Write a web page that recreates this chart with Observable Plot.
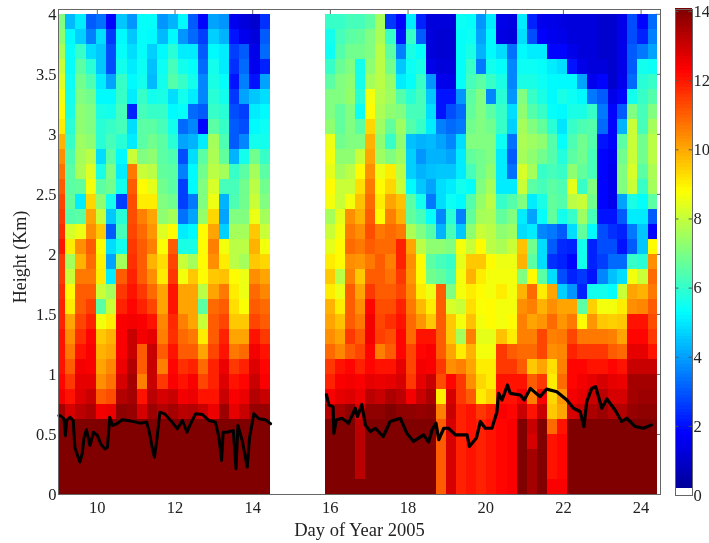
<!DOCTYPE html>
<html>
<head>
<meta charset="utf-8">
<script src="https://cdn.jsdelivr.net/npm/d3@7"></script>
<script src="https://cdn.jsdelivr.net/npm/@observablehq/plot@0.6"></script>
<style>
html,body{margin:0;padding:0;background:#fff}
#chart{position:relative;width:709px;height:543px;overflow:hidden}
#chart svg{position:absolute;left:0;top:0;filter:blur(0.6px);background:transparent}
</style>
</head>
<body>
<div id="chart"></div>
<script>
const xTicks = [10,12,14,16,18,20,22,24];
const yTicks = [0,0.5,1,1.5,2,2.5,3,3.5,4];
const barTicks = [0,2,4,6,8,10,12,14];
const xTitle = ["Day of Year 2005"];
const yTitle = ["Height (Km)"];
const rowStep = 0.125; // km, rows listed from the top of the plot down

// first segment: edge days of each column, then profile values top to bottom
const leftEdges = [9.0,9.19,9.45,9.71,9.98,10.24,10.5,10.77,11.03,11.29,11.56,11.82,12.08,12.35,12.61,12.87,13.14,13.4,13.66,13.93,14.19,14.46];
const leftColumns = [
[7,7.2,7.6,8,8.3,8.6,8.8,9,9.8,10.3,10.7,11,11.3,11.5,11.7,12,11.5,11.5,11.7,11.8,11.8,12,12,12,12.2,12.4,13.5,14,14,14,14,14],
[4.3,5.2,5.3,5.3,5.4,5.5,5.6,5.8,6,6.3,6.5,6.5,6.6,6.4,8.2,9,7.5,8,8.8,9,10,10.3,10.6,11,11.5,12,12.8,14,14,14,14,14],
[5,4.6,6,6.5,6.8,7,7.2,7.2,7.4,7.5,7.6,6.6,5,6.5,8.5,10.3,9.8,10.6,11,11,11.3,11.6,12,12.4,12.6,12.7,13.2,14,14,14,14,14],
[3,3.5,4.8,5.8,6.3,6.8,7,7,7.2,7.8,8.3,8.6,9.3,10,10.3,11,10.8,10.6,11,11.4,11.8,12.2,12.3,12.3,12.6,13,13.4,14,14,14,14,14],
[3.3,4.8,4.5,4.5,5,5.2,5.6,5.8,5.8,4.8,5.6,6.5,7.2,8,9.5,8.7,8.9,9,8,6.5,8.6,9.5,9.8,10,10.3,11,12.4,14,14,14,14,14],
[1.8,2.5,2.8,2.8,4,5.2,5.5,6,6.2,6.5,7,6.8,5.5,4.5,3,4.8,4,5,7.5,8,9,9.8,10,10.4,10.7,11.2,12.5,14,14,14,14,14],
[4.5,5.2,5.3,5.5,6,6,6.2,6.2,5.8,5.2,5,5.5,2.6,5.8,6.2,5.5,7.5,11,11.5,11.8,12.3,12.3,12.3,12.5,12.8,13.3,13.8,14,14,14,14,14],
[3.8,4.5,4.8,5,5.2,5,2.2,4.8,5,8,10.6,11,11.2,11.2,11.3,11.5,11.6,11.8,12,12.2,12.4,13,13,13.3,13.5,13.5,13.7,14,14,14,14,14],
[5.3,5.3,5.3,5.4,5.5,6,6.2,6.5,6.5,7,8,8.8,9,10.5,10.8,11,11,11,11.5,11.8,12.3,12.4,11,11,10.5,12,12.8,14,14,14,14,14],
[5.3,5.2,4.6,4.4,4.3,5.5,6,6.5,6.8,7.2,7.8,8.4,9,10,10.2,10.5,9.8,10.3,10.8,11.3,12,12.6,13,13,13,13.2,13.6,14,14,14,14,14],
[3.8,4.3,5.2,5.4,5.5,5.6,6,6.2,6.5,6.5,6.6,6.8,7,7.2,8.3,8.7,9.2,9,10,10,10.4,10.5,11,10.5,11.5,12.8,13.3,14,14,14,14,14],
[4.2,5.2,5.8,6.2,6.4,4.8,5.2,5.5,5.8,6.3,6.5,6.5,6.8,7.5,8.8,11,11.3,11.5,12,12,11.7,11.6,12,12.2,12.3,13,13.5,14,14,14,14,14],
[5.2,3.8,5,5.5,6,5.5,5.3,3.2,4,2.8,3.5,2.6,2.6,3.3,5,5.6,8,8.6,10,10,10.5,10.8,11,11.6,12,12.4,13.2,14,14,14,14,14],
[3,3.2,5,5.3,5.5,5,3.2,3.6,4.2,4.8,5.2,5.2,3.4,4,5.2,5.6,7.5,9.5,10,10,10,10.6,11,11.8,12.3,12.5,13.3,14,14,14,14,14],
[1.8,2.6,3,3.2,3.6,3.6,3,1.8,5,6.5,6.8,7,7,7.3,8.8,8.8,8.8,8.8,7.8,6.5,8,9,10,10.8,11.3,12,13,14,14,14,14,14],
[4,4.6,5.2,5.5,5.6,5.8,6,6.5,7.5,7.6,7.8,8.2,8.5,9.3,10,10.5,10.3,9.5,10,10.8,11,11,11.3,11.8,11.8,12,12.5,14,14,14,14,14],
[3.8,4.2,5,5,5.3,5.5,5.8,6,6.3,6.6,7.5,6.2,4.2,4,4.6,8.6,9,9.6,10.6,11,11.3,11.8,12,12.5,12.7,13,13.6,14,14,14,14,14],
[1.5,2,2.6,2.4,2,2.5,2.8,3,3,4.2,6,6.2,6.3,7,7.5,7.8,7.8,8.8,9,9.2,9.5,10,10.6,11.5,12,12.3,12.6,14,14,14,14,14],
[1.2,1.5,3,3.2,3.5,4,2.6,2.8,3.6,5.5,6.5,6.8,6.8,7,7.5,7.8,7.5,8.5,8.5,8.7,9.5,10,10.8,11.8,12.2,12.5,13,14,14,14,14,14],
[1,1.2,1.4,1.5,2,4.5,5,5.2,5.5,6.8,7.5,7.8,8,8.5,9.5,9.8,9.5,10.3,10.8,11,11.3,12,12.4,12.7,13,13.3,13.7,14,14,14,14,14],
[2.4,3,3.2,2.2,4,4.8,5.2,5.4,5.5,6,6.5,6.8,7,7.5,8,8.6,9.3,10,10.4,10.8,11,11.5,12,12.2,12.3,13,13.7,14,14,14,14,14]
];

// second segment
const rightEdges = [15.87,16.13,16.39,16.65,16.91,17.17,17.43,17.69,17.95,18.21,18.47,18.73,18.99,19.25,19.51,19.77,20.03,20.29,20.55,20.81,21.07,21.33,21.59,21.85,22.11,22.37,22.63,22.89,23.15,23.4,23.66,23.92,24.18,24.43];
const rightColumns = [
[6,5.5,5.4,6,6.5,7,7,7.2,8.5,8.6,8.4,8.8,8.6,7.5,8,8.4,9,9.5,9,9.8,10,10.3,10.8,11.5,11.8,12.3,13.3,14,14,14,14,14],
[6,6.2,6.4,6.7,7,7,6.6,6.6,6.8,7.2,7.5,8,8,8.4,8.6,8.8,8.8,7.8,8.5,9,9.6,10,10.4,12,12.3,12.6,13.5,14,14,14,14,14],
[6.2,6.5,6.8,7,7.2,7.3,7,7,7,7.2,7.8,8,8.6,10.3,10.6,10.8,10.3,10.5,11,11,11,11.5,11,12.2,12.4,12.7,13.8,14,14,14,14,14],
[6.2,6.6,6.8,5.5,5.5,5.8,5.4,6.5,7,8,8.8,9.2,9.6,9.8,10.3,10.6,10.2,9.5,10,10.3,10.6,11,11.3,11.8,12.3,12.5,12.8,13.2,13.2,13.2,13.2,14],
[6.5,7,7,7.2,7.5,8.6,8.8,9.3,9.8,10,10.3,10.6,10.8,11,11.2,11,10.6,11,11.5,12.2,12.4,12.4,12.2,12.2,12.6,13.2,13.8,14,14,14,14,14],
[7.5,7.6,7.8,7.8,7.8,7.7,7.6,7.4,7.2,7.4,8.5,8.8,9,8.8,10.6,10.8,11,11,11,11.2,11.3,11.4,10.5,12,12.5,13,13.8,14,14,14,14,14],
[2.5,6,6.5,6.8,7.3,7.4,7.2,6.6,6,7,9,9.3,10,10.5,10.8,10.8,10.5,10.7,11,11.2,11.6,11.2,11,12,12.6,13.4,14,14,14,14,14,14],
[1.8,2,3.5,4.5,5,6.4,7,7.4,7.2,7.4,7.8,8,9.6,9.8,10.6,11.8,11.8,11.5,11.3,11.8,12,12.2,12.2,12.6,12.8,13.2,13.8,14,14,14,14,14],
[5,6,5.6,5.4,5.3,5.8,6.2,6.4,4.4,4.6,4.6,5.2,6.5,6.6,7.6,10,10.3,10.2,10.4,10.6,10.8,10.8,11.3,11.3,11.5,12.4,13.8,14,14,14,14,14],
[2.2,3,5.3,5.6,6,6.2,6.2,6,4.2,3.8,4.2,4.5,5.5,6.2,7,7.8,8.8,8.8,9,9.7,10.2,12,12.2,12.4,12.6,13,13.7,14,14,14,14,14],
[1.2,1.2,1.2,1.4,3.8,4.5,4.8,5,4.3,4.2,4.4,4,3.4,5.3,6.4,7.2,6.5,6.8,8.5,9,9.5,12,12.3,12.3,13,13.4,13.8,14,14,14,14,14],
[1.2,1.1,1.1,1.2,1.5,2,2,3.5,4,4.2,4.5,4.8,4.8,3.6,4.2,7.2,6.2,6.6,11,11,11,11,11,11.5,11.2,9,10.5,11,11,11,11,11],
[1.2,1.1,1.1,1.2,1.4,2,2.8,3.2,3.6,4,4.5,5,5.4,5.8,6.2,7,6,6.2,7,8.2,9.5,9.5,10,10.3,12.2,12.8,13,12.8,12.8,12.8,12.8,12.8],
[5.4,5.3,5.3,5.3,5.3,3.8,3.2,3.4,4.8,5,5,5.5,5.2,3.5,4.5,8.6,8.4,8.6,8.6,8,8.6,7.5,9,10.5,11.5,11.5,11.8,11.8,11.8,11.8,11.8,11.8],
[5.3,5.4,5.6,6,6.2,6.5,6.6,6.8,7,6.6,6.2,5.3,6.4,6.6,7.2,8,9.5,9.8,9,9.2,9.6,10.5,9.8,10,10.3,11,12,12,12,12,12,12],
[3.8,4,4.2,3.4,6.5,7,7,7,7,6.8,6.8,7,7.3,7.5,8,8.8,9.5,9,8.8,8.7,8.6,8.4,8.6,9,9.3,9,11.5,11.8,11.8,11.8,11.8,11.8],
[5,5.2,5.2,5.5,6,3.6,6.5,6.8,7,7,7.2,7.5,7.8,7.6,7.8,7.8,8.8,8.6,8.6,8.8,8.8,8.4,8.6,9,9,9.4,11.8,12,12,12,12,12],
[1.4,1.3,4.8,5.3,5.6,5.8,6,6,5.4,5,5,5,6,6.6,7.2,7.6,8.5,8.6,9,8.6,8.6,9.6,11.5,11.5,12,12,12.3,12.2,12.2,12.2,12.2,12.2],
[1.3,1.2,3.3,3.6,3.6,3.8,4.8,4.6,3.3,3,3.3,5,6.4,7,7.4,8,8.5,8.6,8.6,8.6,8.8,9,11,11.5,12,12,12.2,12.3,12.3,12.3,12.3,12.3],
[5,4.8,5.2,5.4,5.6,7,7.2,7.5,7.6,7.5,8.2,8,7,5,4.8,9.6,9.8,7,9.8,10.3,10.5,10.5,10.8,11,12,12.4,13,14,14,14,14,14],
[2.2,2.8,5,5.4,5.6,6,6.4,7,7.4,7.2,7.5,6.5,5,4,5,6.8,6.5,8.8,10.8,10.5,10,10.5,10.8,9.5,11,10.5,12,13,12.8,13.5,13.5,13.5],
[1.5,1.7,5,5.3,5.4,5.6,6,6.6,7.2,6.8,6,6.2,5.6,5.3,3.6,4.8,4.8,6.5,9,9.8,10.2,11.3,11.3,10,11.5,12.3,13,14,14,14,14,14],
[1.4,1.5,1.8,5,5.2,5.2,5.3,5.8,6.4,6.4,6.2,6.5,6.6,6.6,3.4,3,2.4,4.8,10,10.3,10.8,10.5,10.3,9.2,9,9.3,9.5,10.8,12,12,12,12.3],
[1.3,1.4,1.8,4.8,5.2,5.6,5.2,4.9,5.3,5.7,6,6.3,6.4,5.5,3,2.3,2.2,2.8,4.6,10,10.2,10.6,10.4,10.5,10.8,10.2,10,12,12.2,12.2,12.2,12.3],
[1.2,1.2,1.4,2,5.2,5.4,5.6,6,6.3,6.5,7.2,8.4,7.8,6,4.8,2.2,1.8,2.2,3.8,10,10.6,11.3,11.8,12.2,12.2,12.4,12.8,14,14,14,14,14],
[1.2,1.2,1.2,1.4,4,5.2,5.6,6.3,6.8,6.8,6.6,6,8,7.4,6.6,5.5,5.5,2.5,2.2,6.5,8.8,10.6,11.5,12.2,12.4,12.6,13,14,14,14,14,14],
[1.2,1.2,1.2,1.2,1.5,3.4,6,6.4,6.4,6.2,6.2,7,6.8,6.2,5.2,2.2,2.2,2,5.5,9.4,10.2,10.6,11.5,12,12.6,13,13.4,14,14,14,14,14],
[1,1,1,1.2,1.8,3,3.4,3.2,2,1.8,1.8,1.8,1.8,2,2.8,2.8,2.6,3.6,5.5,8.6,9.5,10.6,11.5,12,12.8,13.2,13.6,14,14,14,14,14],
[1,1,1,1,1,1.4,1.8,1.8,1.8,1.6,1.5,1.5,1.5,2,2.4,2.8,3.2,4.4,5.3,8.6,9.4,10.5,11,12.2,12.6,12.8,13.3,14,14,14,14,14],
[1.4,1.4,1.4,1.4,1.5,1.8,3,4.2,6.5,6.8,7,7,4,3,2.2,2,3.2,4.8,8,9,9.5,10,10.8,12,12.5,12.8,13.3,14,14,14,14,14],
[2.8,2.8,3,3,3.2,5.5,7,8,8,8,8.2,8,5.6,5,3.4,3,6,8.6,10,10.3,12,12.2,12.6,13,13.5,13.5,13.7,14,14,14,14,14],
[1.8,2.2,3.4,5.5,5.8,6,6.2,6.2,6.8,6.8,6.5,6,5.3,5,4.5,4.5,5.8,8,9.8,10.4,12,12.2,12.6,13,13.5,13.6,13.8,14,14,14,14,14],
[3.2,3.5,4,5.4,6,6.4,7,7.5,7.8,7.8,7.6,7.5,6.5,3,1.8,8.8,10.3,10.8,10.6,11,11.2,11.5,12,13,13.5,13.6,13.8,14,14,14,14,14]
];

// black trace
const traceDaysA = [9.01,9.07,9.14,9.18,9.21,9.3,9.38,9.42,9.49,9.55,9.61,9.66,9.72,9.81,9.9,10,10.09,10.19,10.26,10.32,10.39,10.5,10.64,10.79,10.99,11.11,11.27,11.34,11.41,11.47,11.54,11.61,11.73,11.89,12.06,12.19,12.31,12.4,12.53,12.7,12.87,13.04,13.13,13.2,13.24,13.34,13.5,13.57,13.62,13.73,13.86,13.92,14.03,14.16,14.33,14.46];
const traceKmA = [0.658,0.65,0.63,0.49,0.617,0.644,0.617,0.394,0.325,0.27,0.339,0.478,0.539,0.408,0.519,0.492,0.422,0.38,0.394,0.644,0.575,0.589,0.622,0.617,0.603,0.594,0.603,0.519,0.394,0.311,0.478,0.686,0.672,0.617,0.547,0.617,0.519,0.589,0.672,0.667,0.617,0.603,0.478,0.283,0.519,0.519,0.533,0.214,0.575,0.45,0.228,0.478,0.672,0.631,0.622,0.589];
const traceDaysB = [15.9,15.96,16.07,16.09,16.15,16.3,16.47,16.64,16.7,16.81,16.9,17.03,17.16,17.36,17.54,17.8,17.97,18.14,18.4,18.53,18.62,18.72,18.79,18.92,19.04,19.22,19.52,19.58,19.76,19.86,19.99,20.16,20.29,20.33,20.42,20.56,20.63,20.89,20.99,21.15,21.4,21.57,21.83,22.09,22.26,22.43,22.53,22.6,22.73,22.83,22.99,23.12,23.33,23.5,23.63,23.85,24.06,24.27];
const traceKmB = [0.83,0.746,0.73,0.51,0.62,0.635,0.594,0.718,0.65,0.75,0.58,0.525,0.552,0.483,0.608,0.635,0.51,0.442,0.497,0.436,0.539,0.594,0.456,0.552,0.552,0.497,0.497,0.4,0.47,0.608,0.552,0.552,0.69,0.843,0.787,0.912,0.843,0.829,0.787,0.884,0.815,0.878,0.856,0.787,0.718,0.691,0.566,0.773,0.884,0.898,0.718,0.796,0.704,0.608,0.635,0.566,0.552,0.58];

const barLevels = d3.range(0.2, 14.05, 0.1);

// build tables
const cells = [];
function addCells(edges, columns) {
  columns.forEach((col, i) => col.forEach((v, r) => cells.push({
    x1: edges[i], x2: edges[i + 1],
    y2: 4 - r * rowStep, y1: 4 - (r + 1) * rowStep, v
  })));
}
addCells(leftEdges, leftColumns);
addCells(rightEdges, rightColumns);
const traceA = traceDaysA.map((d, i) => ({d, k: traceKmA[i]}));
const traceB = traceDaysB.map((d, i) => ({d, k: traceKmB[i]}));

const jet = {
  type: "linear",
  domain: [0, 1.75, 5.25, 8.75, 12.25, 14],
  range: ["#00008f", "#0000ff", "#00ffff", "#ffff00", "#ff0000", "#800000"],
  clamp: true
};
const fontFamily = "'Liberation Serif', serif";
const ink = "#222";
const frameColor = "#666";

const main = Plot.plot({
  width: 709, height: 543,
  marginLeft: 58, marginRight: 49, marginTop: 9, marginBottom: 49,
  style: {fontFamily, fontSize: "16.5px", color: ink, background: "transparent"},
  x: {domain: [9, 24.5], axis: null},
  y: {domain: [0, 4.04], axis: null},
  color: jet,
  marks: [
    Plot.ruleX(xTicks, {y1: 4.04, y2: 3.995, stroke: frameColor}),
    Plot.ruleY(yTicks, {x1: 24.38, x2: 24.5, stroke: frameColor}),
    Plot.rect(cells, {x1: "x1", x2: "x2", y1: "y1", y2: "y2", fill: "v", shapeRendering: "crispEdges"}),
    Plot.line(traceA, {x: "d", y: "k", stroke: "#000", strokeWidth: 3}),
    Plot.line(traceB, {x: "d", y: "k", stroke: "#000", strokeWidth: 3.2}),
    Plot.frame({stroke: frameColor}),
    Plot.axisX(xTicks, {anchor: "bottom", tickSize: 0, tickPadding: 7, label: null, fontSize: 16.5}),
    Plot.axisY(yTicks, {anchor: "left", tickSize: 0, tickPadding: 2, tickFormat: d => String(d), label: null, fontSize: 16.5}),
    Plot.text(xTitle, {text: d => d, frameAnchor: "bottom", lineAnchor: "middle", dy: 36, fontSize: 18.5, fill: ink}),
    Plot.text(yTitle, {text: d => d, frameAnchor: "left", textAnchor: "middle", lineAnchor: "middle", rotate: -90, dx: -38, dy: 5, fontSize: 18, fill: ink})
  ]
});

const bar = Plot.plot({
  width: 709, height: 543,
  marginLeft: 675, marginRight: 17, marginTop: 9, marginBottom: 48,
  style: {fontFamily, fontSize: "16.5px", color: ink, background: "transparent"},
  x: {domain: [0, 1], axis: null},
  y: {domain: [0, 14.06], axis: null},
  color: jet,
  marks: [
    Plot.rect(barLevels, {x1: 0, x2: 1, y1: d => d, y2: d => d + 0.1, fill: d => d, shapeRendering: "crispEdges"}),
    Plot.ruleY(barTicks, {x1: 0, x2: 0.2, stroke: "#555"}),
    Plot.ruleY(barTicks, {x1: 0.8, x2: 1, stroke: "#555"}),
    Plot.frame({stroke: frameColor}),
    Plot.axisY(barTicks, {anchor: "right", tickSize: 0, tickPadding: 1, label: null, fontSize: 16.5})
  ]
});

const root = document.getElementById("chart");
root.append(main, bar);
</script>
</body>
</html>
